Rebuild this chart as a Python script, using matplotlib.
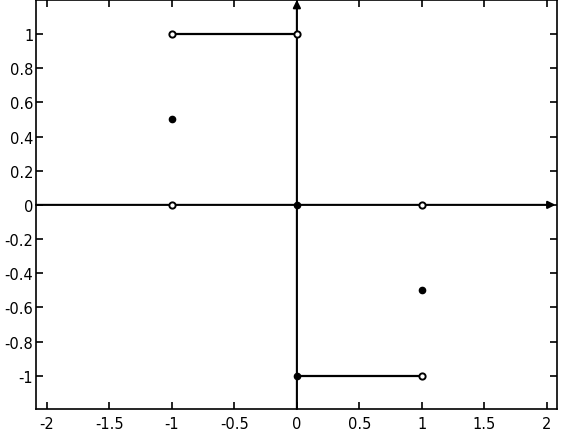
import matplotlib
matplotlib.use("Agg")
import matplotlib.pyplot as plt
import numpy as np

plt.rcParams["font.family"] = ["DejaVu Sans"]

# step segments
seg_x = [[-1, 0], [0, 1]]
seg_y = [[1, 1], [-1, -1]]

# open (excluded) endpoints
open_x = [-1, 0, -1, 1, 1]
open_y = [1, 1, 0, 0, -1]

# filled (included) points
fill_x = [-1, 0, 0, 1]
fill_y = [0.5, 0, -1, -0.5]

xticks = np.arange(-2, 2.01, 0.5)
yticks = np.arange(-1, 1.01, 0.2)

fig = plt.figure(figsize=(5.67, 4.39), dpi=100)
ax = fig.add_axes([0.0635, 0.066, 0.9185, 0.932])
ax.set_xlim(-2.088, 2.08)
ax.set_ylim(-1.195, 1.2)

# coordinate axes with arrows
ax.annotate("", xy=(2.07, 0), xytext=(-2.088, 0),
            arrowprops=dict(arrowstyle="-|>", color="black", lw=1.5,
                            mutation_scale=11, shrinkA=0, shrinkB=0))
ax.annotate("", xy=(0, 1.2), xytext=(0, -1.195),
            arrowprops=dict(arrowstyle="-|>", color="black", lw=1.5,
                            mutation_scale=11, shrinkA=0, shrinkB=0))

for xs, ys in zip(seg_x, seg_y):
    ax.plot(xs, ys, color="black", lw=1.6)

ax.plot(fill_x, fill_y, "o", color="black", ms=4.5, zorder=3)
ax.plot(open_x, open_y, "o", mfc="white", mec="black", mew=1.4, ms=4.5, zorder=4)

ax.set_xticks(xticks)
ax.set_yticks(yticks)
ax.set_xticklabels(["-2", "-1.5", "-1", "-0.5", "0", "0.5", "1", "1.5", "2"])
ax.set_yticklabels(["-1", "-0.8", "-0.6", "-0.4", "-0.2", "0", "0.2", "0.4", "0.6", "0.8", "1"])
ax.tick_params(direction="in", top=True, right=True, length=5, width=1.2, labelsize=10.5)
ax.tick_params(axis="y", pad=2)
ax.tick_params(axis="x", pad=5)
for s in ax.spines.values():
    s.set_linewidth(1.2)

fig.savefig("out.png", dpi=100)
